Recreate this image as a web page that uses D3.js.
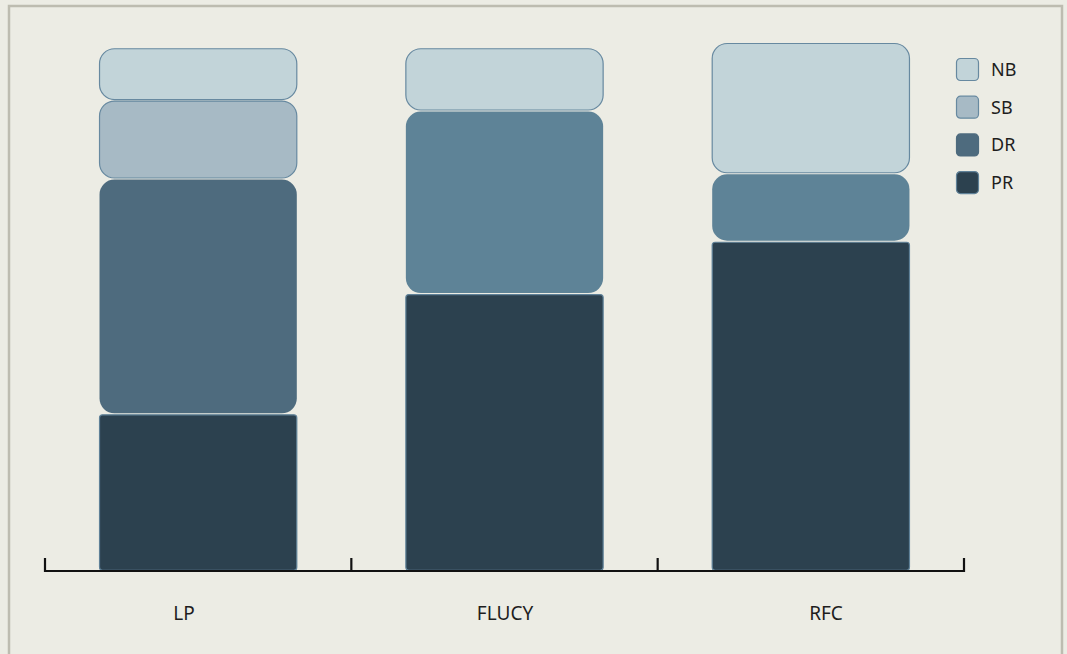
<!DOCTYPE html>
<html>
<head>
<meta charset="utf-8">
<script src="https://cdn.jsdelivr.net/npm/d3@7/dist/d3.min.js"></script>
<style>
  html, body { margin: 0; padding: 0; background: #ecece4; }
  svg { display: block; }
  text { font-family: "Noto Sans", "Open Sans", sans-serif; fill: #1e1e1e; }
</style>
</head>
<body>
<svg id="chart" width="1067" height="654"></svg>
<script>
// Categories and stacked series (bottom to top)
const categories = ["LP", "FLUCY", "RFC"];
const seriesNames = ["PR", "DR", "SB", "NB"];
const PR = [30, 53, 63];
const DR = [45, 35, 13];
const SB = [15, 0, 0];
const NB = [10, 12, 25];
const legendOrder = ["NB", "SB", "DR", "PR"];

const fills = { PR: "#2c414f", DR: "#4e6b7e", SB: "#a7bac5", NB: "#c2d4d9" };
const drSoft = "#5e8397";           // lighter DR tone used for the last two bars
const softDR = ["FLUCY", "RFC"];
const strokes = { PR: "#5f8198", DR: "none", SB: "#6789a0", NB: "#6789a0" };
const radii = { PR: 3, DR: 15, SB: 15, NB: 15 };

const svg = d3.select("#chart");

// Frame
svg.append("rect")
  .attr("x", 9).attr("y", 6)
  .attr("width", 1053).attr("height", 660)
  .attr("fill", "#ecece4")
  .attr("stroke", "#bdbcb0").attr("stroke-width", 2.5);

const x = d3.scaleBand().domain(categories).range([45, 964]).padding(0);
const barFrac = 0.644;
const y = d3.scaleLinear().domain([0, 100]).range([571, 48]);
// label anchor positions along the baseline
const xLabel = d3.scalePoint().domain(categories).range([184, 826]);

const rows = categories.map((c, i) => ({ cat: c, PR: PR[i], DR: DR[i], SB: SB[i], NB: NB[i] }));
const stack = d3.stack().keys(seriesNames)(rows);

const bw = x.bandwidth() * barFrac;
const g = svg.append("g");

stack.forEach(layer => {
  const key = layer.key;
  g.selectAll(null)
    .data(layer.filter(d => d[1] - d[0] > 0))
    .join("rect")
    .attr("x", d => x(d.data.cat) + (x.bandwidth() - bw) / 2)
    .attr("width", bw)
    .attr("y", d => y(d[1]) + 0.75)
    .attr("height", d => y(d[0]) - y(d[1]) - 1.5)
    .attr("rx", radii[key]).attr("ry", radii[key])
    .attr("fill", d => key === "DR" && softDR.includes(d.data.cat) ? drSoft : fills[key])
    .attr("stroke", strokes[key])
    .attr("stroke-width", 1.2);
});

// Baseline with category boundary ticks
const axisY = 571;
const bounds = categories.map(c => x(c)).concat([x.range()[1]]);
const ax = svg.append("g").attr("stroke", "#111").attr("stroke-width", 2.2).attr("fill", "none");
ax.append("line").attr("x1", bounds[0]).attr("x2", bounds[bounds.length - 1])
  .attr("y1", axisY).attr("y2", axisY);
ax.selectAll(null).data(bounds).join("line")
  .attr("x1", d => d).attr("x2", d => d)
  .attr("y1", axisY - 13).attr("y2", axisY + 1);

// Category labels
svg.selectAll(null).data(categories).join("text")
  .attr("x", c => xLabel(c))
  .attr("y", 620)
  .attr("text-anchor", "middle")
  .attr("font-size", 19)
  .text(c => c);

// Legend
const lg = svg.append("g").attr("transform", "translate(956,58)");
const item = lg.selectAll(null).data(legendOrder).join("g")
  .attr("transform", (d, i) => `translate(0,${i * 37.7})`);
item.append("rect")
  .attr("x", 0.5).attr("y", 0.5).attr("width", 22).attr("height", 22)
  .attr("rx", 4).attr("ry", 4)
  .attr("fill", d => fills[d])
  .attr("stroke", d => d === "DR" ? fills.DR : strokes[d])
  .attr("stroke-width", 1.2);
item.append("text")
  .attr("x", 35).attr("y", 11.5)
  .attr("dy", "0.35em")
  .attr("font-size", 18)
  .text(d => d);
</script>
</body>
</html>
